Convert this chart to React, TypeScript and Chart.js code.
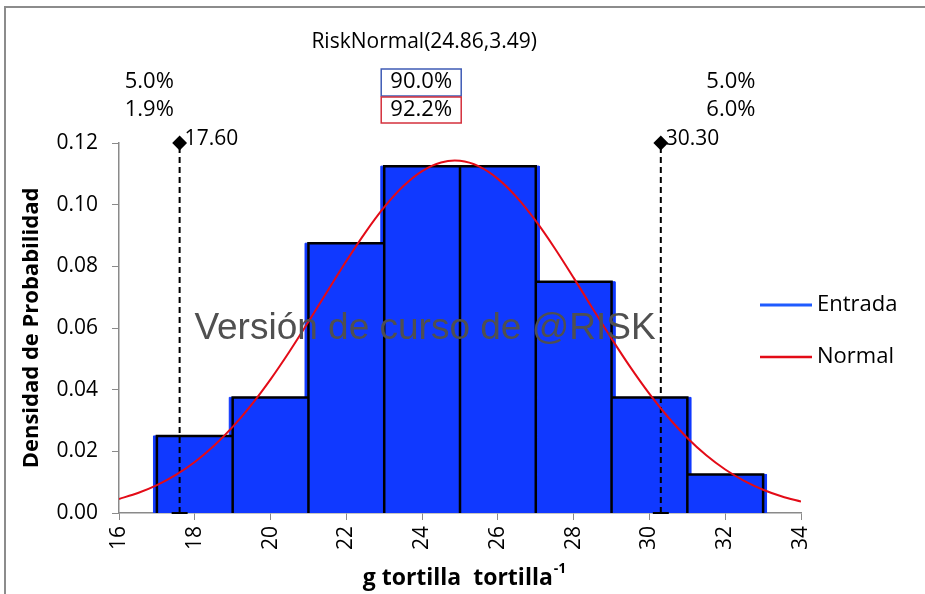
import React, { useEffect, useRef } from "react";
import { Chart, registerables } from "chart.js";

Chart.register(...registerables);

// ---- data ----
const binEdges = [17, 19, 21, 23, 25, 27, 29, 31, 33];
const binDensity = [0.025, 0.0375, 0.0875, 0.1125, 0.1125, 0.075, 0.0375, 0.0125];

const normalX = [
  16, 16.5, 17, 17.5, 18, 18.5, 19, 19.5, 20, 20.5, 21, 21.5, 22, 22.5, 23, 23.5, 24, 24.5,
  25, 25.5, 26, 26.5, 27, 27.5, 28, 28.5, 29, 29.5, 30, 30.5, 31, 31.5, 32, 32.5, 33, 33.5, 34,
];
const normalY = [
  0.00456, 0.00649, 0.00905, 0.01237, 0.01656, 0.02173, 0.02792, 0.03515, 0.04335, 0.05238,
  0.06201, 0.07191, 0.08171, 0.09095, 0.09918, 0.10595, 0.11089, 0.1137, 0.11422, 0.1124,
  0.10837, 0.10236, 0.09472, 0.08587, 0.07626, 0.06635, 0.05656, 0.04723, 0.03864, 0.03097,
  0.02432, 0.01871, 0.0141, 0.01041, 0.00753, 0.00533, 0.0037,
];

const markerValues = [17.6, 30.3];
const markerTop = 0.12;
const inputPercents = ["5.0%", "90.0%", "5.0%"];
const fitPercents = ["1.9%", "92.2%", "6.0%"];
const fitTitle = "RiskNormal(24.86,3.49)";
const xTicks = [16, 18, 20, 22, 24, 26, 28, 30, 32, 34];
const yTicks = [0, 0.02, 0.04, 0.06, 0.08, 0.1, 0.12];
const legendLabels = ["Entrada", "Normal"];
const yTitle = "Densidad de Probabilidad";
const xTitle = "g tortilla  tortilla";
const xTitleSup = "-1";
const watermark = "Versión de curso de @RISK";

const BLUE = "#1039ff";
const BLUE_LEGEND = "#1f5bff";
const RED = "#e30b17";
const AXIS = "#8a8a8a";
const BLUE_SPREAD = 0.09; // horizontal overhang of the blue fill, in axis units

export default function App() {
  const ref = useRef<HTMLCanvasElement | null>(null);

  useEffect(() => {
    document.body.style.margin = "0";
    const canvas = ref.current;
    if (!canvas) return;

    // blue filled outline, each vertical edge pushed out toward the lower neighbour
    const n = binDensity.length;
    const bluePts: { x: number; y: number }[] = [];
    for (let k = 0; k <= n; k++) {
      const left = k > 0 ? binDensity[k - 1] : 0;
      const right = k < n ? binDensity[k] : 0;
      const e = binEdges[k];
      const xe = right > left ? e - BLUE_SPREAD : right < left ? e + BLUE_SPREAD : e;
      bluePts.push({ x: xe, y: left });
      bluePts.push({ x: xe, y: right });
    }

    const blackPts: { x: number; y: number | null }[] = [];
    binDensity.forEach((d, i) => {
      blackPts.push({ x: binEdges[i], y: 0 });
      blackPts.push({ x: binEdges[i], y: d });
      blackPts.push({ x: binEdges[i + 1], y: d });
      blackPts.push({ x: binEdges[i + 1], y: 0 });
      blackPts.push({ x: binEdges[i + 1], y: null });
    });

    const normalPts = normalX.map((x, i) => ({ x, y: normalY[i] }));

    const markerSets = markerValues.map((m) => ({
      type: "line" as const,
      data: [
        { x: m, y: 0 },
        { x: m, y: markerTop },
      ],
      borderColor: "#000",
      borderWidth: 2,
      borderDash: [6, 4],
      pointStyle: ["line", "rectRot"] as any,
      pointRadius: [8, 6],
      pointBorderWidth: 2,
      pointBackgroundColor: "#000",
      pointBorderColor: "#000",
      clip: false as any,
      order: 1,
    }));

    const overlay = {
      id: "overlay",
      afterDraw(chart: any) {
        const { ctx, chartArea: a, scales } = chart;
        const xs = scales.x;
        ctx.save();
        // frame
        ctx.strokeStyle = "#8c8c8c";
        ctx.lineWidth = 2;
        ctx.beginPath();
        ctx.moveTo(5, 594);
        ctx.lineTo(5, 7);
        ctx.lineTo(925, 7);
        ctx.stroke();

        const m1 = xs.getPixelForValue(markerValues[0]);
        const m2 = xs.getPixelForValue(markerValues[1]);
        const centers = [(a.left + m1) / 2, (m1 + m2) / 2 + 1, (m2 + a.right) / 2];

        ctx.fillStyle = "#000";
        ctx.textAlign = "center";
        ctx.textBaseline = "middle";
        ctx.font = '21px "Open Sans"';
        ctx.fillText(fitTitle, centers[1] + 3, 42);

        ctx.font = '22px "Open Sans"';
        for (let i = 0; i < 3; i++) {
          ctx.fillText(inputPercents[i], centers[i], 82);
          ctx.fillText(fitPercents[i], centers[i], 110);
        }
        const bw = 80;
        ctx.lineWidth = 1.5;
        ctx.strokeStyle = "#3f5bb5";
        ctx.strokeRect(centers[1] - bw / 2, 69, bw, 27);
        ctx.strokeStyle = "#d4303c";
        ctx.strokeRect(centers[1] - bw / 2, 97, bw, 26);

        // marker labels
        ctx.textAlign = "left";
        ctx.font = '21px "Open Sans"';
        [m1, m2].forEach((mx, i) => {
          ctx.fillText(markerValues[i].toFixed(2), mx + 5, 139);
        });

        // legend
        const legY = [305, 357];
        const legC = [BLUE_LEGEND, RED];
        ctx.font = '22px "Open Sans"';
        ctx.textBaseline = "middle";
        legY.forEach((y, i) => {
          ctx.strokeStyle = legC[i];
          ctx.lineWidth = i === 0 ? 3 : 2.5;
          ctx.beginPath();
          ctx.moveTo(760, y);
          ctx.lineTo(812, y);
          ctx.stroke();
          ctx.fillStyle = "#000";
          ctx.fillText(legendLabels[i], 817, y);
        });

        // y title
        ctx.save();
        ctx.translate(32, (a.top + a.bottom) / 2);
        ctx.rotate(-Math.PI / 2);
        ctx.textAlign = "center";
        ctx.font = 'bold 22px "Open Sans"';
        ctx.fillText(yTitle, 0, 0);
        ctx.restore();

        // x title
        ctx.font = 'bold 23px "Open Sans"';
        const w1 = ctx.measureText(xTitle).width;
        ctx.font = 'bold 14px "Open Sans"';
        const w2 = ctx.measureText(xTitleSup).width;
        const sx = (a.left + a.right) / 2 + 4 - (w1 + w2) / 2;
        ctx.textAlign = "left";
        ctx.font = 'bold 23px "Open Sans"';
        ctx.fillText(xTitle, sx, 578);
        ctx.font = 'bold 14px "Open Sans"';
        ctx.fillText(xTitleSup, sx + w1 + 1, 569);

        // watermark
        ctx.textAlign = "center";
        ctx.textBaseline = "alphabetic";
        ctx.font = '37px "Liberation Sans"';
        ctx.fillStyle = "#505050";
        ctx.fillText(watermark, 425, 339);
        ctx.restore();
      },
    };

    const chart = new Chart(canvas, {
      type: "line",
      data: {
        datasets: [
          {
            data: normalPts,
            borderColor: RED,
            borderWidth: 2,
            pointRadius: 0,
            tension: 0.3,
            fill: false,
            order: 0,
          },
          ...markerSets,
          {
            data: blackPts as any,
            borderColor: "#000",
            borderWidth: 2.5,
            pointRadius: 0,
            spanGaps: false,
            fill: false,
            tension: 0,
            borderJoinStyle: "miter",
            order: 2,
          },
          {
            data: bluePts,
            borderColor: BLUE,
            backgroundColor: BLUE,
            borderWidth: 1,
            pointRadius: 0,
            tension: 0,
            fill: "origin",
            borderJoinStyle: "miter",
            order: 3,
          },
        ] as any,
      },
      options: {
        animation: false,
        responsive: false,
        events: [],
        layout: { padding: { left: 0, right: 124, top: 143, bottom: 0 } },
        plugins: {
          legend: { display: false },
          tooltip: { enabled: false },
        },
        scales: {
          x: {
            type: "linear",
            min: 16,
            max: 34,
            afterBuildTicks: (s: any) => {
              s.ticks = xTicks.map((v) => ({ value: v }));
            },
            afterFit: (s: any) => {
              s.height = 81;
            },
            ticks: {
              minRotation: 90,
              maxRotation: 90,
              padding: 6,
              color: "#000",
              font: { family: "Open Sans", size: 21 },
              callback: (v: any) => String(v),
            },
            grid: {
              drawOnChartArea: false,
              drawTicks: true,
              tickLength: 7,
              color: AXIS,
            },
            border: { color: AXIS, width: 1.5 },
          },
          y: {
            type: "linear",
            min: 0,
            max: 0.12,
            afterBuildTicks: (s: any) => {
              s.ticks = yTicks.map((v) => ({ value: v }));
            },
            afterFit: (s: any) => {
              s.width = 119;
            },
            ticks: {
              padding: 14,
              color: "#000",
              font: { family: "Open Sans", size: 21 },
              callback: (v: any) => Number(v).toFixed(2),
            },
            grid: {
              drawOnChartArea: false,
              drawTicks: true,
              tickLength: 7,
              color: AXIS,
            },
            border: { color: AXIS, width: 1.5 },
          },
        },
      },
      plugins: [overlay],
    });

    return () => chart.destroy();
  }, []);

  return (
    <div style={{ width: 925, height: 594, position: "relative", background: "#fff" }}>
      <canvas ref={ref} width={925} height={594} style={{ display: "block" }} />
    </div>
  );
}
